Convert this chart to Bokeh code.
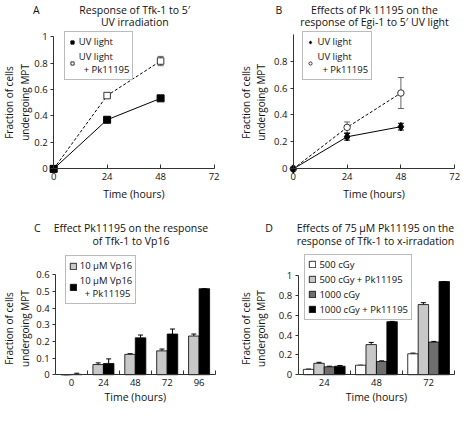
import math
from bokeh.plotting import figure
from bokeh.layouts import gridplot
from bokeh.models import (Label, Legend, LegendItem, Whisker, ColumnDataSource,
                          FixedTicker, TeeHead, Range1d)
from bokeh.embed import file_html
from bokeh.resources import INLINE

FONT = "Open Sans"

# ---------------- data ----------------
# Panel A
a_hours = [0, 24, 48]
a_uv = [0, 0.371, 0.533]
a_uv_err = [0, 0.015, 0.008]
a_pk = [0, 0.554, 0.815]
a_pk_err = [0, 0.010, 0.035]
# Panel B
b_hours = [0, 24, 48]
b_uv = [0, 0.238, 0.313]
b_uv_err = [0, 0.025, 0.025]
b_pk = [0, 0.308, 0.563]
b_pk_err = [0, 0.040, 0.115]
# Panel C
c_cats = ["0", "24", "48", "72", "96"]
c_vp16 = [0, 0.061, 0.122, 0.143, 0.232]
c_vp16_err = [0, 0.010, 0.004, 0.011, 0.012]
c_vp16_pk = [0.002, 0.067, 0.221, 0.244, 0.516]
c_vp16_pk_err = [0.007, 0.028, 0.017, 0.030, 0.0]
# Panel D
d_cats = ["24", "48", "72"]
d_500 = [0.054, 0.096, 0.211]
d_500_err = [0.003, 0.0, 0.007]
d_500_pk = [0.115, 0.304, 0.708]
d_500_pk_err = [0.010, 0.022, 0.019]
d_1000 = [0.080, 0.134, 0.330]
d_1000_err = [0.006, 0.006, 0.006]
d_1000_pk = [0.086, 0.535, 0.940]
d_1000_pk_err = [0.007, 0.003, 0.0]

AX = "#333333"
TXT = "#111111"
SX = 460 / 476
SY = 405 / 421
LEG_SHIFT = 9  # empirical correction for legend anchor


def fmt(v):
    return "%g" % v


def span(v0, v1, p0, p1, total):
    s = (v1 - v0) / (p1 - p0)
    start = v0 - p0 * s
    return Range1d(start, start + total * s)


def lab(p, H, x, ytop, text, size="10.5px", angle=0):
    p.add_layout(Label(x=x, y=H - ytop, x_units="screen", y_units="screen", text=text,
                       text_align="center", text_baseline="middle", text_font=FONT,
                       text_font_size=size, text_color=TXT, angle=angle,
                       text_line_height=1.1))


def base_fig(W, H, L):
    ox, oy = L["ox"], L["oy"]
    cx = lambda r: r * SX - ox
    cy = lambda r: r * SY - oy
    px0, px1 = cx(L["px0"]), cx(L["px1"])
    xr = span(L["x0"], L["x1"], px0, px1, W)
    yr = span(L["y0"], L["y1"], H - cy(L["py0"]), H - cy(L["py1"]), H)
    p = figure(frame_width=W, frame_height=H, min_border=0, x_range=xr, y_range=yr,
               toolbar_location=None, output_backend="svg", tools="")
    p.outline_line_color = None
    p.xgrid.visible = False
    p.ygrid.visible = False
    for ax in (p.xaxis[0], p.yaxis[0]):
        ax.axis_line_color = AX
        ax.major_tick_line_color = AX
        ax.minor_tick_line_color = AX
        ax.major_label_text_font = FONT
        ax.major_label_text_font_size = "9.5px"
        ax.major_label_text_color = TXT
    ya = p.yaxis[0]
    ya.fixed_location = L["x0"]
    ya.bounds = (L["y0"], L["ybound"])
    ya.ticker = FixedTicker(ticks=L["yticks"])
    ya.major_label_overrides = {t: fmt(t) for t in L["yticks"]}
    ya.major_tick_in = 0
    ya.major_tick_out = 3
    ya.minor_tick_in = 0
    ya.minor_tick_out = 0
    ya.major_label_standoff = 3
    xa = p.xaxis[0]
    xa.fixed_location = L["y0"]
    xa.bounds = (L["x0"], L["x1"])
    xa.major_label_standoff = 4
    # texts
    lab(p, H, cx(L["tcx"]), cy(L["t1y"]), L["title"][0])
    lab(p, H, cx(L["tcx"]), cy(L["t2y"]), L["title"][1])
    lab(p, H, cx(L["lx"]), cy(L["t1y"]), L["letter"])
    lab(p, H, cx(L["ylx"]), cy(L["yly"]), "Fraction of cells\nundergoing MPT", size="10px",
        angle=math.pi / 2)
    lab(p, H, (px0 + px1) / 2, cy(L["xly"]), "Time (hours)")
    p._leg_loc = (cx(L["legx"]), H - cy(L["legbot"]) - LEG_SHIFT)
    return p


def style_legend(leg):
    leg.label_text_font = FONT
    leg.label_text_font_size = "9.5px"
    leg.label_text_color = TXT
    leg.label_text_line_height = 1.0
    leg.glyph_width = 8
    leg.glyph_height = 8
    leg.label_height = 9
    leg.spacing = 2
    leg.padding = 3
    leg.margin = 0
    leg.label_standoff = 3
    leg.border_line_color = "#777777"
    leg.border_line_width = 1
    leg.background_fill_alpha = 1


def line_panel(W, H, L, hours, s1, e1, s2, e2, m1, m2):
    p = base_fig(W, H, L)
    xa = p.xaxis[0]
    xa.ticker = FixedTicker(ticks=[0, 24, 48, 72])
    xa.major_tick_in = 4
    xa.major_tick_out = 0
    xa.minor_tick_in = 0
    xa.minor_tick_out = 0

    src1 = ColumnDataSource(dict(x=hours, y=s1, lo=[v - e for v, e in zip(s1, e1)],
                                 hi=[v + e for v, e in zip(s1, e1)]))
    src2 = ColumnDataSource(dict(x=hours, y=s2, lo=[v - e for v, e in zip(s2, e2)],
                                 hi=[v + e for v, e in zip(s2, e2)]))
    p.line("x", "y", source=src2, line_color="black", line_width=1, line_dash="3 2")
    p.line("x", "y", source=src1, line_color="black", line_width=1)
    p.add_layout(Whisker(base="x", lower="lo", upper="hi", source=src2, line_color="#666666",
                         upper_head=TeeHead(size=6, line_color="#666666"),
                         lower_head=TeeHead(size=6, line_color="#666666")))
    p.add_layout(Whisker(base="x", lower="lo", upper="hi", source=src1, line_color="black",
                         upper_head=TeeHead(size=6, line_color="black"),
                         lower_head=TeeHead(size=6, line_color="black")))
    r2 = p.scatter("x", "y", source=src2, marker=m2, size=6.5, fill_color="white",
                   line_color="#333333", line_width=1)
    r1 = p.scatter("x", "y", source=src1, marker=m1, size=7 if m1 == "square" else 8.5,
                   fill_color="black", line_color="black")
    leg = Legend(items=[LegendItem(label="UV light", renderers=[r1]),
                        LegendItem(label="UV light\n  + Pk11195", renderers=[r2])],
                 location=p._leg_loc)
    style_legend(leg)
    p.add_layout(leg)
    return p


def bar_panel(W, H, L, cats, series, width):
    p = base_fig(W, H, L)
    n = len(cats)
    xa = p.xaxis[0]
    centers = [i + 0.5 for i in range(n)]
    xa.ticker = FixedTicker(ticks=centers, minor_ticks=[i + 1 for i in range(n)])
    xa.major_label_overrides = {c: t for c, t in zip(centers, cats)}
    xa.major_tick_in = 0
    xa.major_tick_out = 0
    xa.minor_tick_in = 4
    xa.minor_tick_out = 0
    k = len(series)
    items = []
    for j, (label, vals, errs, color) in enumerate(series):
        off = (j - (k - 1) / 2) * width
        xs = [c + off for c in centers]
        src = ColumnDataSource(dict(x=xs, top=vals, hi=[v + e for v, e in zip(vals, errs)]))
        r = p.vbar(x="x", top="top", width=width, source=src, fill_color=color,
                   line_color="black", line_width=0.8)
        p.add_layout(Whisker(base="x", lower="top", upper="hi", source=src, line_color="black",
                             upper_head=TeeHead(size=5, line_color="black"), lower_head=None))
        items.append(LegendItem(label=label, renderers=[r]))
    leg = Legend(items=items, location=p._leg_loc)
    style_legend(leg)
    p.add_layout(leg)
    return p


# layouts in reference-picture pixels
LA = dict(ox=0, oy=0, x0=0, x1=72, px0=55, px1=221, y0=0, y1=1.0, py0=175, py1=37.5, ybound=1.0,
          yticks=[0, 0.2, 0.4, 0.6, 0.8, 1.0],
          title=["Response of Tfk-1 to 5\u2032", "UV irradiation"], letter="A",
          tcx=139, t1y=9.5, t2y=22, lx=37, ylx=17, yly=106, xly=201, legx=66, legbot=74)
LB = dict(ox=230, oy=0, x0=0, x1=72, px0=303, px1=470, y0=0, y1=1.0, py0=175, py1=35, ybound=1.0,
          yticks=[0, 0.2, 0.4, 0.6, 0.8],
          title=["Effects of Pk 11195 on the", "response of Egi-1 to 5\u2032 UV light"], letter="B",
          tcx=387, t1y=9.5, t2y=22, lx=288, ylx=262, yly=106, xly=201, legx=313, legbot=74)
LC = dict(ox=0, oy=202, x0=0, x1=5, px0=57, px1=222, y0=0, y1=0.6, py0=389, py1=285, ybound=0.6,
          yticks=[0, 0.1, 0.2, 0.3, 0.4, 0.5, 0.6],
          title=["Effect Pk11195 on the response", "of Tfk-1 to Vp16"], letter="C",
          tcx=135, t1y=237, t2y=249.5, lx=38, ylx=17, yly=341, xly=412, legx=67, legbot=307)
LD = dict(ox=230, oy=202, x0=0, x1=3, px0=308, px1=470, y0=0, y1=1.0, py0=389, py1=286, ybound=1.0,
          yticks=[0, 0.2, 0.4, 0.6, 0.8, 1.0],
          title=["Effects of 75 \u00b5M Pk11195 on the", "response of Tfk-1 to x-irradation"], letter="D",
          tcx=388, t1y=237, t2y=249.5, lx=278, ylx=262, yly=341, xly=412, legx=315, legbot=323)

pa = line_panel(230, 202, LA, a_hours, a_uv, a_uv_err, a_pk, a_pk_err, "square", "square")
pb = line_panel(230, 202, LB, b_hours, b_uv, b_uv_err, b_pk, b_pk_err, "diamond", "circle")
pc = bar_panel(230, 203, LC, c_cats,
               [("10 \u00b5M Vp16", c_vp16, c_vp16_err, "#c8c8c8"),
                ("10 \u00b5M Vp16\n  + Pk11195", c_vp16_pk, c_vp16_pk_err, "black")], 0.33)
pd_ = bar_panel(230, 203, LD, d_cats,
                [("500 cGy", d_500, d_500_err, "white"),
                 ("500 cGy + Pk11195", d_500_pk, d_500_pk_err, "#c8c8c8"),
                 ("1000 cGy", d_1000, d_1000_err, "#6e6e6e"),
                 ("1000 cGy + Pk11195", d_1000_pk, d_1000_pk_err, "black")], 0.2)

grid = gridplot([[pa, pb], [pc, pd_]], toolbar_location=None)
open("out.html", "w").write(file_html(grid, INLINE))
